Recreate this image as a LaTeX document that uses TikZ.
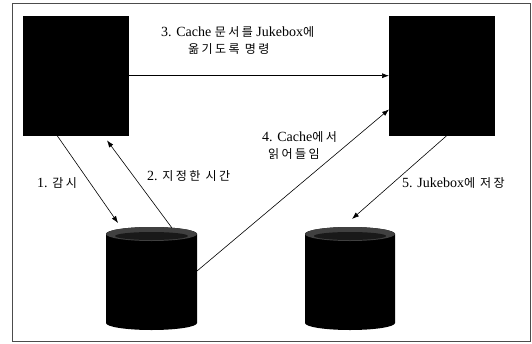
\documentclass[tikz,border=0pt]{standalone}
\usepackage{fontspec}
\setmainfont{Liberation Serif}
\newfontfamily\kr[Scale=0.86,LetterSpace=20]{Noto Sans CJK KR}
\usetikzlibrary{arrows.meta}
\begin{document}
\begin{tikzpicture}[x=1pt,y=-1pt,
  box/.style={fill=black,draw=black},
  conn/.style={draw=black,line width=0.6pt,-{Latex[length=7pt,width=5pt]}},
  lbl/.style={font=\fontsize{14}{17}\selectfont,inner sep=0pt,align=center},
  frame/.style={draw=black!70,line width=0.6pt}]
\useasboundingbox (0,0) rectangle (532,343);
\draw[frame] (12,3) rectangle (530,341);
% servers
\node[box,minimum width=105pt,minimum height=119pt,inner sep=0pt,anchor=north west] (L) at (23,16) {};
\node[box,minimum width=105pt,minimum height=119pt,inner sep=0pt,anchor=north west] (R) at (389,16) {};
% cylinders
\newcommand{\dbcyl}[3]{%
  \fill[black] (#1,234) arc[start angle=180,end angle=360,x radius=#2,y radius=7] -- (#1+2*#2,323)
     arc[start angle=0,end angle=180,x radius=#2,y radius=7] -- cycle;
  \fill[black!75] (#1+#2,234) ellipse[x radius=#2,y radius=7];
  \fill[black!90] (#1+#2,236) ellipse[x radius=#2*0.8,y radius=4];
  \coordinate (#3) at (#1+#2,278);
}
\dbcyl{106}{45.5}{C1}
\dbcyl{305}{45}{C2}
\coordinate (C1top) at (118,223);
\coordinate (C1a) at (172,228);
\coordinate (C1r) at (197,271);
\coordinate (C2top) at (352,219);
% connectors
\draw[conn] ([xshift=34pt]L.south west) -- (C1top);
\draw[conn] (C1a) -- ([xshift=84pt,yshift=-5pt]L.south west);
\draw[conn] (L.east) -- (R.west);
\draw[conn] (C1r) -- ([yshift=26pt]R.south west);
\draw[conn] ([xshift=58pt]R.south west) -- (C2top);
% labels
\node[lbl,anchor=west] (t3) at (161,32) {3. Cache {\kr 문서를} Jukebox{\kr 에}};
\node[lbl,anchor=west] (t3b) at (188,49) {\kr 옮기도록 명령};
\node[lbl,anchor=west] (t4) at (262,137) {4. Cache{\kr 에서}};
\node[lbl,anchor=west] (t4b) at (268,154) {\kr 읽어들임};
\node[lbl,anchor=west] (t1) at (37,183) {1. {\kr 감시}};
\node[lbl,anchor=west] (t2) at (147,176) {2. {\kr 지정한 시간}};
\node[lbl,anchor=west] (t5) at (402,183) {5. Jukebox{\kr 에 저장}};
\end{tikzpicture}
\end{document}
